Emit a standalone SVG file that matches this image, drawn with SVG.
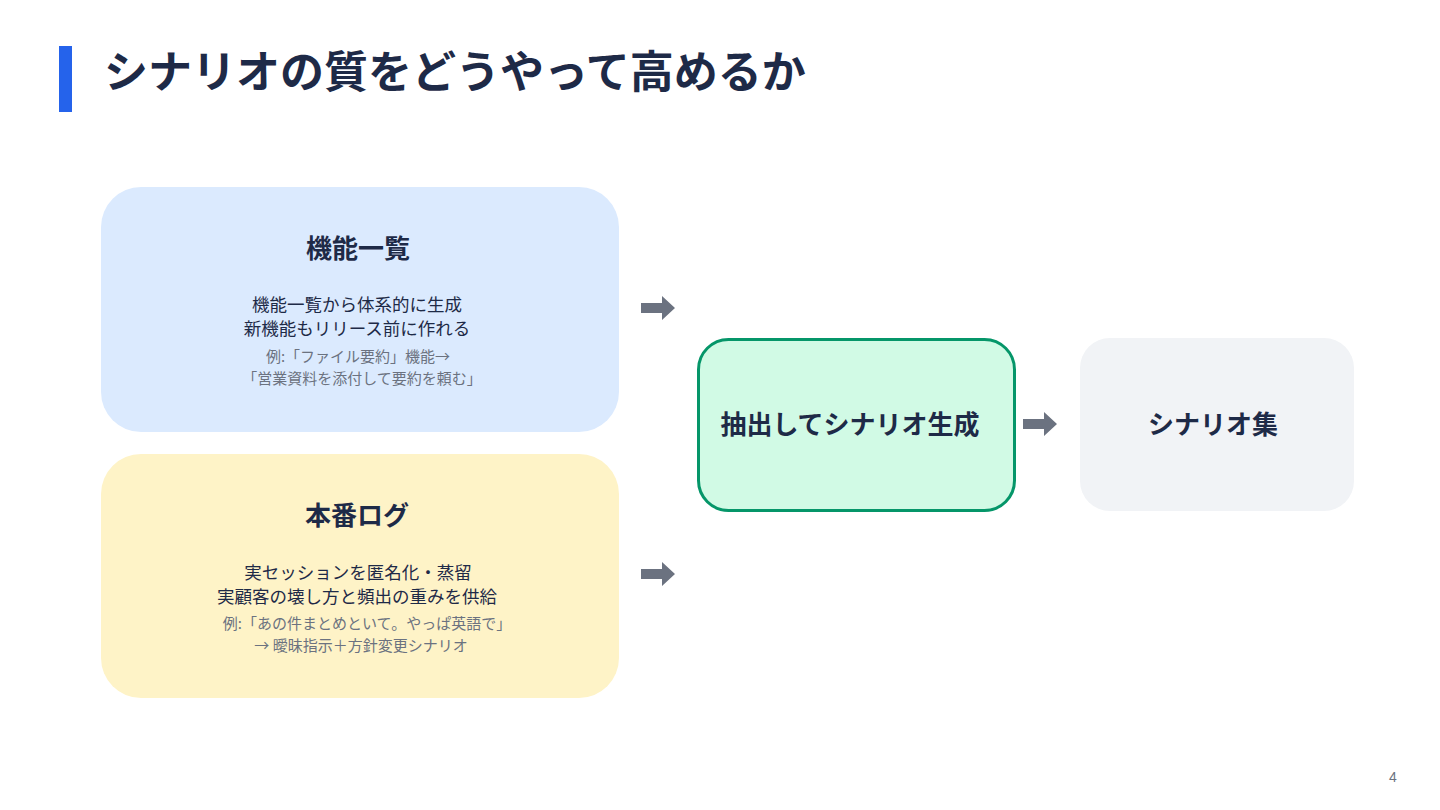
<svg xmlns="http://www.w3.org/2000/svg" width="1440" height="810" viewBox="0 0 1440 810">
<defs>
<style>
text{font-family:"Noto Sans CJK JP","Noto Sans",sans-serif;}
.title{font-size:44px;font-weight:700;fill:#1e2a47;}
.h{font-size:26px;font-weight:700;fill:#1e2a47;text-anchor:middle;}
.b{font-size:17.5px;fill:#1e2a47;text-anchor:middle;}
.e{font-size:15px;fill:#6b7280;text-anchor:middle;}
.arrow{fill:#6b7280;}
</style>
<path id="blk" d="M0,-5 L21,-5 L21,-12 L34,0 L21,12 L21,5 L0,5 Z"/>
</defs>
<rect width="1440" height="810" fill="#ffffff"/>
<rect x="59" y="46" width="13" height="66" fill="#2563eb"/>
<text class="title" x="104" y="88">シナリオの質をどうやって高めるか</text>

<g id="node-features">
<rect x="101" y="187" width="518" height="245" rx="40" fill="#dbeafe"/>
<text class="h" x="358" y="258">機能一覧</text>
<text class="b" x="357" y="311">機能一覧から体系的に生成</text>
<text class="b" x="357" y="335">新機能もリリース前に作れる</text>
<text class="e" x="358" y="362">例:「ファイル要約」機能→</text>
<text class="e" x="362" y="384">「営業資料を添付して要約を頼む」</text>
</g>

<g id="node-logs">
<rect x="101" y="454" width="518" height="244" rx="40" fill="#fef3c7"/>
<text class="h" x="357" y="525">本番ログ</text>
<text class="b" x="358" y="579">実セッションを匿名化・蒸留</text>
<text class="b" x="357" y="603">実顧客の壊し方と頻出の重みを供給</text>
<text class="e" x="367" y="629">例:「あの件まとめといて。やっぱ英語で」</text>
<text class="e" x="361" y="651">→ 曖昧指示＋方針変更シナリオ</text>
</g>

<g id="node-extract">
<rect x="698.5" y="339.5" width="316" height="171" rx="30" fill="#d1fae5" stroke="#059669" stroke-width="3"/>
<text class="h" x="850" y="434">抽出してシナリオ生成</text>
</g>

<g id="node-output">
<rect x="1080" y="338" width="274" height="173" rx="30" fill="#f1f3f6"/>
<text class="h" x="1213" y="434">シナリオ集</text>
</g>

<g id="connectors">
<use href="#blk" class="arrow" x="641" y="308"/>
<use href="#blk" class="arrow" x="641" y="574"/>
<use href="#blk" class="arrow" x="1023" y="424"/>
</g>

<text x="1393" y="782" style="font-size:14px;fill:#6b7280;font-family:'Liberation Sans',sans-serif;" text-anchor="middle">4</text>
</svg>
